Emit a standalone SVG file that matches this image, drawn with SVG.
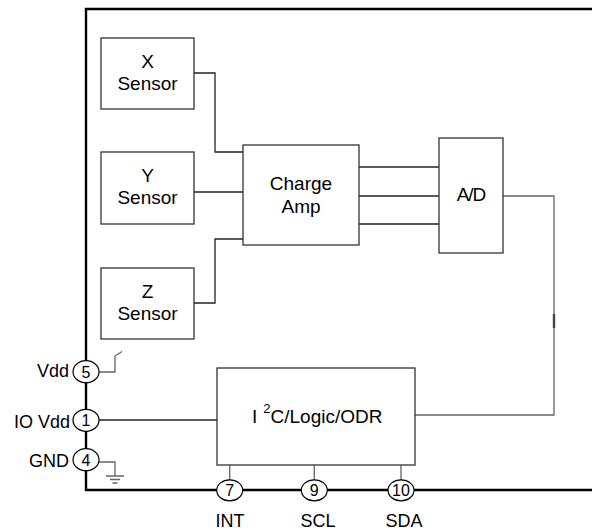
<svg xmlns="http://www.w3.org/2000/svg" width="592" height="531" viewBox="0 0 592 531">
<style>
text{font-family:"Liberation Sans",Arial,sans-serif;fill:#000}
.box{fill:#fff;stroke:#333;stroke-width:1.3}
.lbl{font-size:19px;text-anchor:middle}
.pin{font-size:16px;text-anchor:middle}
.side{font-size:18px;text-anchor:end}
.w{fill:none;stroke:#222;stroke-width:1.3}
.g{fill:none;stroke:#666;stroke-width:1.3}
.frame{fill:none;stroke:#000;stroke-width:2.4}
.pc{fill:#fff;stroke:#000;stroke-width:1.2}
</style>
<rect width="592" height="531" fill="#fff"/>
<path class="frame" d="M592,9 H86 V490 H592"/>
<g id="connectors">
<path class="w" d="M194,73 H215 V152 H243"/>
<path class="w" d="M194,192 H243"/>
<path class="w" d="M194,303 H215 V239 H243"/>
<path class="w" d="M359,167 H439 M359,196 H439 M359,224 H439"/>
<path class="g" d="M503,196 H554 V415 H415"/>
<path stroke="#444" stroke-width="2.4" d="M554,314 V328"/>
<path class="w" d="M99,420 H217"/>
<path class="g" d="M99,372 H115 V356 L122,351.5"/>
<path class="g" d="M99,462 H115 V476 M106,476 H124 M110,479.5 H120 M112.5,483 H117.5"/>
<path class="g" d="M229.7,465 V480 M314.3,465 V480 M401,465 V480"/>
</g>
<g id="xsensor"><rect class="box" x="101" y="38" width="93" height="71"/><text class="lbl" x="147.5" y="67.5">X</text><text class="lbl" x="147.5" y="90">Sensor</text></g>
<g id="ysensor"><rect class="box" x="101" y="152" width="93" height="72"/><text class="lbl" x="147.5" y="181.5">Y</text><text class="lbl" x="147.5" y="204">Sensor</text></g>
<g id="zsensor"><rect class="box" x="101" y="268" width="93" height="71"/><text class="lbl" x="147.5" y="297.5">Z</text><text class="lbl" x="147.5" y="320">Sensor</text></g>
<g id="chargeamp"><rect class="box" x="243" y="145" width="116" height="100"/><text class="lbl" x="301" y="189.5">Charge</text><text class="lbl" x="301" y="213">Amp</text></g>
<g id="ad"><rect class="box" x="439" y="138" width="64" height="115"/><text class="lbl" x="471" y="201" letter-spacing="-1">A/D</text></g>
<g id="logic"><rect class="box" x="217" y="368" width="198" height="97"/><text x="252" y="423" font-size="19">I<tspan dx="6" dy="-10" font-size="13">2</tspan><tspan dy="10">C/Logic/ODR</tspan></text></g>
<g id="pin5"><ellipse class="pc" cx="86" cy="371.7" rx="13" ry="11"/><text class="pin" x="86" y="377.5">5</text><text class="side" x="69" y="377">Vdd</text></g>
<g id="pin1"><ellipse class="pc" cx="86" cy="420.3" rx="13" ry="11"/><text class="pin" x="86" y="426">1</text><text class="side" x="70" y="427.5">IO Vdd</text></g>
<g id="pin4"><ellipse class="pc" cx="86" cy="459.7" rx="13" ry="11"/><text class="pin" x="86" y="465.5">4</text><text class="side" x="69" y="466.5">GND</text></g>
<g id="pin7"><ellipse class="pc" cx="229.7" cy="490.3" rx="13" ry="10.5"/><text class="pin" x="229.7" y="496">7</text><text class="side" text-anchor="middle" style="text-anchor:middle" x="230" y="527">INT</text></g>
<g id="pin9"><ellipse class="pc" cx="314.3" cy="490.3" rx="13" ry="10.5"/><text class="pin" x="314.3" y="496">9</text><text class="side" style="text-anchor:middle" x="318" y="527">SCL</text></g>
<g id="pin10"><ellipse class="pc" cx="401" cy="490.3" rx="13" ry="10.5"/><text class="pin" x="401" y="496">10</text><text class="side" style="text-anchor:middle" x="404" y="527">SDA</text></g>
</svg>
